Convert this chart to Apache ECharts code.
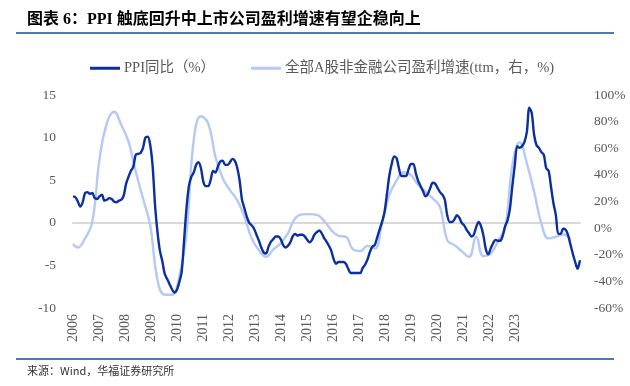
<!DOCTYPE html>
<html><head><meta charset="utf-8">
<script src="https://cdn.jsdelivr.net/npm/echarts@6/dist/echarts.min.js"></script>
<style>html,body{margin:0;padding:0;background:#fff}#c{width:630px;height:386px}</style>
</head><body><div id="c"></div>
<script>
// ---- data ----
const startYear = 2006, endYear = 2023, endMonth = 7;
const yearLabels = ['2006','2007','2008','2009','2010','2011','2012','2013','2014','2015','2016','2017','2018','2019','2020','2021','2022','2023'];
// PPI YoY (%), monthly Jan 2006 - Jul 2023
const ppi = [
 3.1, 3.0, 2.5, 1.9, 2.4, 3.5, 3.6, 3.4, 3.5, 2.9, 2.8, 3.1,
 3.3, 2.6, 2.7, 2.9, 2.8, 2.5, 2.4, 2.6, 2.7, 3.2, 4.6, 5.4,
 6.1, 6.6, 8.0, 8.1, 8.2, 8.8, 10.0, 10.1, 9.1, 6.6, 2.0, -1.1,
 -3.3, -4.5, -6.0, -6.6, -7.2, -7.8, -8.2, -7.9, -7.0, -5.8, -2.1, 1.7,
 4.3, 5.4, 5.9, 6.8, 7.1, 6.4, 4.8, 4.3, 4.3, 5.0, 6.1, 5.9,
 6.6, 7.2, 7.3, 6.8, 6.8, 7.1, 7.5, 7.3, 6.5, 5.0, 2.7, 1.7,
 0.7, 0.0, -0.3, -0.7, -1.4, -2.1, -2.9, -3.5, -3.6, -2.8, -2.2, -1.9,
 -1.6, -1.6, -1.9, -2.6, -2.9, -2.7, -2.3, -1.6, -1.3, -1.5, -1.4, -1.4,
 -1.6, -2.0, -2.3, -2.0, -1.4, -1.1, -0.9, -1.2, -1.8, -2.2, -2.7, -3.3,
 -4.3, -4.8, -4.6, -4.6, -4.6, -4.8, -5.4, -5.9, -5.9, -5.9, -5.9, -5.9,
 -5.3, -4.9, -4.3, -3.4, -2.8, -2.6, -1.7, -0.8, 0.1, 1.2, 3.3, 5.5,
 6.9, 7.8, 7.6, 6.4, 5.5, 5.5, 5.5, 6.3, 6.9, 6.9, 5.8, 4.9,
 4.3, 3.7, 3.1, 3.4, 4.1, 4.7, 4.6, 4.1, 3.6, 3.3, 2.7, 0.9,
 0.1, 0.1, 0.4, 0.9, 0.6, 0.0, -0.3, -0.8, -1.2, -1.6, -1.4, -0.5,
 0.1, -0.4, -1.5, -3.1, -3.7, -3.0, -2.4, -2.0, -2.1, -2.1, -1.5, -0.4,
 0.3, 1.7, 4.4, 6.8, 9.0, 8.8, 9.0, 9.5, 10.7, 13.5, 12.9, 10.3,
 9.1, 8.8, 8.3, 8.0, 6.4, 6.1, 4.2, 2.3, 0.9, -1.3, -1.3, -0.7,
 -0.8, -1.4, -2.5, -3.6, -4.6, -5.4, -4.4
];
// A-share non-financial profit growth (ttm, %), quarterly
const profitDates = [
 '2006-01','2006-03','2006-06','2006-09','2006-12',
 '2007-03','2007-06','2007-09','2007-12',
 '2008-03','2008-06','2008-09','2008-12',
 '2009-03','2009-06','2009-09','2009-12',
 '2010-03','2010-06','2010-09','2010-12',
 '2011-03','2011-06','2011-09','2011-12',
 '2012-03','2012-06','2012-09','2012-12',
 '2013-03','2013-06','2013-09','2013-12',
 '2014-03','2014-06','2014-09','2014-12',
 '2015-03','2015-06','2015-09','2015-12',
 '2016-03','2016-06','2016-09','2016-12',
 '2017-03','2017-06','2017-09','2017-12',
 '2018-03','2018-06','2018-09','2018-12',
 '2019-03','2019-06','2019-09','2019-12',
 '2020-03','2020-06','2020-09','2020-12',
 '2021-03','2021-06','2021-09','2021-12',
 '2022-03','2022-06','2022-09','2022-12',
 '2023-03'
];
const profitValues = [
 -12, -14.5, -7.7, 4.7, 52,
 78.7, 87.4, 77.4, 64.9,
 42.3, 22.3, 2, -39,
 -50, -50, -36.6, -4,
 66, 84, 78.7, 53.6,
 37.4, 28.6, 21, 8.5,
 -7.7, -16.5, -21.6, -16,
 -11.5, -4, 7.3, 10.3,
 10.5, 10, 5.5, -1.5,
 -5.8, -6.5, -16, -17.3,
 -13.3, -15.3, 3.5, 24.8,
 35.6, 42, 39.8, 32.3,
 27.3, 22.3, 16, -9,
 -12.8, -17.3, -21.6, -6.5,
 -21, -19, -10, 1,
 47.4, 64.4, 48.6, 27.3,
 3.5, -7.7, -6.5, -4.8,
 -8.3
];
const seriesNames = ['PPI同比（%）', '全部A股非金融公司盈利增速(ttm，右，%)'];

// ---- build ----
const months = [];
for (let y = startYear; y <= endYear; y++) {
  for (let m = 1; m <= 12; m++) {
    if (y === endYear && m > endMonth) break;
    months.push(y + '-' + (m < 10 ? '0' + m : '' + m));
  }
}
const profitData = profitDates.map((d, i) => [d, profitValues[i]]);

const serif = '"Liberation Serif","Times New Roman","Noto Sans CJK SC",serif';
const labelColor = '#595959';
const darkBlue = '#0a2f9e', lightBlue = '#b4c9f6';

const chart = echarts.init(document.getElementById('c'), null, {renderer: 'canvas'});
chart.setOption({
  animation: false,
  backgroundColor: '#fff',
  grid: {left: 73, right: 50, top: 95, bottom: 78},
  legend: {
    left: 85, top: 56, icon: 'rect', itemWidth: 30, itemHeight: 3, itemGap: 36,
    textStyle: {fontSize: 14.5, color: labelColor, fontFamily: serif, padding: [0,0,0,-1]},
    data: [
      {name: seriesNames[0], itemStyle: {color: darkBlue}},
      {name: seriesNames[1], itemStyle: {color: lightBlue}}
    ]
  },
  xAxis: [
    {
      type: 'category', data: months, boundaryGap: false,
      axisLine: {show: true, onZero: true, lineStyle: {color: '#d9d9d9', width: 2}},
      axisTick: {show: false}, axisLabel: {show: false}, splitLine: {show: false}
    },
    {
      type: 'value', position: 'bottom', min: 0, max: 19.5, interval: 1,
      axisLine: {show: false, onZero: false}, axisTick: {show: false}, splitLine: {show: false},
      axisLabel: {
        rotate: 90, margin: 6, fontSize: 14, color: labelColor, fontFamily: serif,
        formatter: v => yearLabels[v] || ''
      }
    }
  ],
  yAxis: [
    {
      type: 'value', min: -10, max: 15, interval: 5,
      axisLine: {show: false}, axisTick: {show: false}, splitLine: {show: false},
      axisLabel: {margin: 17, fontSize: 13.5, color: labelColor, fontFamily: serif}
    },
    {
      type: 'value', min: -60, max: 100, interval: 20, position: 'right',
      axisLine: {show: false}, axisTick: {show: false}, splitLine: {show: false},
      axisLabel: {margin: 14, fontSize: 13.5, color: labelColor, fontFamily: serif, formatter: '{value}%'}
    }
  ],
  series: [
    {
      name: seriesNames[1], type: 'line', xAxisIndex: 0, yAxisIndex: 1,
      data: profitData, smooth: 0.45, symbol: 'none', z: 2,
      lineStyle: {color: lightBlue, width: 2.4}, itemStyle: {color: lightBlue}
    },
    {
      name: seriesNames[0], type: 'line', xAxisIndex: 0, yAxisIndex: 0,
      data: ppi, smooth: 0.3, symbol: 'none', z: 3,
      lineStyle: {color: darkBlue, width: 2.4}, itemStyle: {color: darkBlue}
    }
  ],
  graphic: [
    {type: 'text', left: 27, top: 12, style: {text: '图表 6：PPI 触底回升中上市公司盈利增速有望企稳向上', font: 'bold 16px ' + serif, fill: '#000'}},
    {type: 'line', shape: {x1: 16, y1: 33, x2: 614, y2: 33}, style: {stroke: '#4f76b9', lineWidth: 2}},
    {type: 'line', shape: {x1: 16, y1: 359, x2: 614, y2: 359}, style: {stroke: '#4f76b9', lineWidth: 2}},
    {type: 'text', left: 27, top: 365, style: {text: '来源：Wind，华福证券研究所', font: '11px "Noto Sans CJK SC", sans-serif', fill: '#333'}}
  ]
});
</script>
</body></html>
